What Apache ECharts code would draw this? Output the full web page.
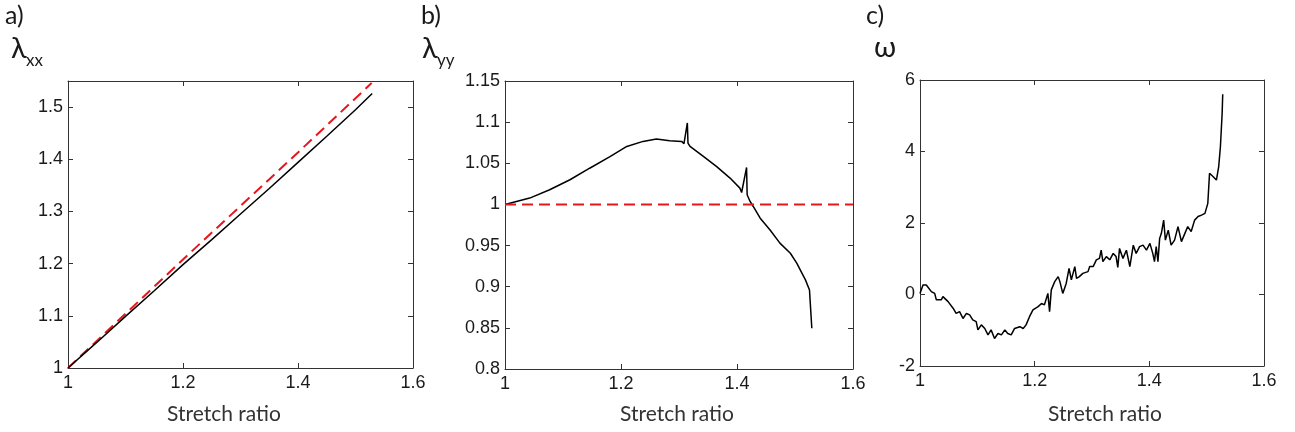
<!DOCTYPE html>
<html><head><meta charset="utf-8">
<script src="https://cdn.jsdelivr.net/npm/echarts@6/dist/echarts.min.js"></script>
<style>html,body{margin:0;padding:0;background:#fff}#c{width:1295px;height:432px}</style>
</head><body><div id="c"></div>
<script>
// ---- data ----
const xTicks = [1, 1.2, 1.4, 1.6];
const panelA_measured = [[1,1],[1.05,1.049],[1.1,1.099],[1.15,1.148],[1.2,1.198],[1.25,1.246],[1.3,1.295],[1.35,1.344],[1.4,1.394],[1.45,1.444],[1.5,1.495],[1.529,1.526]];
const panelA_reference = [[1,1],[1.2,1.208],[1.4,1.413],[1.528,1.546]];
const panelB_measured = [[1,1.0],[1.0426,1.0077],[1.077,1.0178],[1.112,1.030],[1.146,1.044],[1.181,1.058],[1.21,1.0705],[1.238,1.0766],[1.261,1.0794],[1.284,1.0774],[1.3046,1.0766],[1.3086,1.0738],[1.3144,1.099],[1.3155,1.0746],[1.319,1.0705],[1.342,1.0583],[1.365,1.046],[1.388,1.032],[1.405,1.0198],[1.408,1.0145],[1.4165,1.045],[1.4175,1.0117],[1.4226,1.0036],[1.428,0.9975],[1.44,0.9833],[1.457,0.969],[1.474,0.953],[1.492,0.9407],[1.503,0.9286],[1.518,0.9083],[1.525,0.896],[1.526,0.884],[1.529,0.8495]];
const panelB_reference = [[1,1],[1.6,1]];
const panelC_omega = [[1,0.03],[1.0052,0.266],[1.011,0.266],[1.0198,0.08],[1.0256,0.03],[1.0285,-0.15],[1.037,-0.15],[1.04,-0.06],[1.049,-0.2],[1.058,-0.39],[1.063,-0.53],[1.069,-0.48],[1.075,-0.67],[1.081,-0.53],[1.0866,-0.57],[1.092,-0.71],[1.098,-0.76],[1.101,-0.99],[1.107,-0.85],[1.113,-0.95],[1.1186,-1.13],[1.124,-0.99],[1.13,-1.23],[1.136,-1.09],[1.142,-1.13],[1.148,-0.99],[1.153,-1.09],[1.159,-1.13],[1.165,-0.95],[1.174,-0.9],[1.18,-0.95],[1.185,-0.85],[1.191,-0.62],[1.197,-0.43],[1.206,-0.34],[1.212,-0.25],[1.217,-0.29],[1.223,0.03],[1.226,-0.48],[1.229,0.13],[1.235,0.36],[1.241,0.5],[1.244,0.36],[1.249,0.03],[1.255,0.31],[1.26,0.73],[1.264,0.41],[1.27,0.78],[1.273,0.45],[1.278,0.5],[1.284,0.59],[1.293,0.64],[1.296,0.78],[1.302,0.78],[1.3076,0.97],[1.313,1.01],[1.316,1.24],[1.319,0.92],[1.325,1.06],[1.331,0.97],[1.337,1.15],[1.342,1.06],[1.345,0.76],[1.348,1.29],[1.354,1.01],[1.36,1.24],[1.366,0.78],[1.372,1.38],[1.377,1.15],[1.383,1.34],[1.389,1.38],[1.395,1.24],[1.401,1.43],[1.406,1.15],[1.409,0.92],[1.412,1.34],[1.415,0.92],[1.418,1.57],[1.421,1.71],[1.425,2.08],[1.428,1.52],[1.433,1.8],[1.438,1.38],[1.444,1.52],[1.45,1.9],[1.456,1.48],[1.462,1.71],[1.467,1.9],[1.473,1.76],[1.479,2.08],[1.485,2.18],[1.491,2.22],[1.497,2.27],[1.502,2.55],[1.505,3.39],[1.511,3.3],[1.517,3.2],[1.521,3.58],[1.524,4.14],[1.527,5.07],[1.528,5.6]];
const yRangeA = {min:1, max:1.55, interval:0.1};
const yRangeB = {min:0.8, max:1.15, interval:0.05};
const yRangeC = {min:-2, max:6, interval:2};
const panelLetters = ['a)', 'b)', 'c)'];
const yNames = [['λ','xx'], ['λ','yy'], ['ω','']];
const xName = 'Stretch ratio';

// ---- chart ----
const chart = echarts.init(document.getElementById('c'), null, {renderer:'canvas'});
const axisColor = '#333';
const txtColor = '#1a1a1a';
const tickFont = {fontFamily:'Liberation Sans', fontSize:18, color:txtColor};
const grids = [
  {left:68, top:81, width:345, height:287},
  {left:505, top:81, width:348, height:288},
  {left:920, top:80, width:344, height:286}
];
const yr = [yRangeA, yRangeB, yRangeC];
const xAxes = [], yAxes = [];
grids.forEach((g,i)=>{
  const common = {type:'value', gridIndex:i, min:1, max:1.6, interval:0.2,
    axisLine:{show:true, onZero:false, lineStyle:{color:axisColor, width:1}},
    axisTick:{show:true, inside:true, length:5, lineStyle:{color:axisColor}},
    splitLine:{show:false}};
  xAxes.push(Object.assign({}, common, {position:'bottom',
    axisLabel:{...tickFont, margin:6, formatter:v=>String(+v.toFixed(2))}}));
  xAxes.push(Object.assign({}, common, {position:'top', axisLabel:{show:false}}));
  const ycommon = {type:'value', gridIndex:i, min:yr[i].min, max:yr[i].max, interval:yr[i].interval,
    axisLine:{show:true, onZero:false, lineStyle:{color:axisColor, width:1}},
    axisTick:{show:true, inside:true, length:5, lineStyle:{color:axisColor}},
    splitLine:{show:false}};
  yAxes.push(Object.assign({}, ycommon, {position:'left',
    axisLabel:{...tickFont, margin:5, showMaxLabel: i!==0,
      formatter:v=>String(+v.toFixed(2))}}));
  yAxes.push(Object.assign({}, ycommon, {position:'right', axisLabel:{show:false}}));
});
const blackLine = {type:'line', symbol:'none', lineStyle:{color:'#000', width:1.5}, silent:true};
const redDash = {type:'line', symbol:'none', lineStyle:{color:'#e8161c', width:2, type:[11,6]}, silent:true};
const letterPos = [[5,3],[421,3],[866,3]];
const namePos = [[11,34],[422,34],[874,33]];
const xNameCenters = [224, 677, 1105];
const graphics = [];
panelLetters.forEach((t,i)=>{
  graphics.push({type:'text', x:letterPos[i][0], y:letterPos[i][1],
    style:{text:t, font:'normal 25px Lato', fill:txtColor}});
  graphics.push({type:'text', x:namePos[i][0], y:namePos[i][1],
    style:{text:yNames[i][0], font:'normal 29px Lato', fill:txtColor}});
  if (yNames[i][1]) graphics.push({type:'text', x:namePos[i][0]+15, y:namePos[i][1]+18,
    style:{text:yNames[i][1], font:'normal 17px Lato', fill:txtColor}});
  graphics.push({type:'text', x:xNameCenters[i], y:414,
    style:{text:xName, font:'normal 21px Lato', fill:'#333', textAlign:'center', textVerticalAlign:'middle'}});
});
chart.setOption({
  animation:false,
  backgroundColor:'#fff',
  graphic: graphics,
  grid: grids,
  xAxis: xAxes,
  yAxis: yAxes,
  series: [
    {...redDash, xAxisIndex:0, yAxisIndex:0, data:panelA_reference},
    {...blackLine, xAxisIndex:0, yAxisIndex:0, data:panelA_measured},
    {...blackLine, xAxisIndex:2, yAxisIndex:2, data:panelB_measured},
    {...redDash, xAxisIndex:2, yAxisIndex:2, data:panelB_reference},
    {...blackLine, xAxisIndex:4, yAxisIndex:4, data:panelC_omega}
  ]
});
</script></body></html>
